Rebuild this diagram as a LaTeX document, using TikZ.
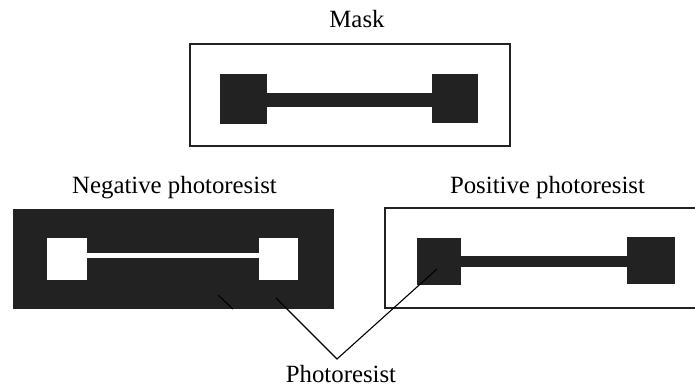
\documentclass[tikz,border=0pt]{standalone}
\usepackage{fontspec}
\setmainfont{Liberation Serif}
\definecolor{ink}{HTML}{222222}
\begin{document}
\begin{tikzpicture}[x=1pt,y=-1pt,
  lbl/.style={anchor=base,inner sep=0pt,font=\fontsize{24.8}{27}\selectfont},
  frame/.style={draw=ink,line width=2.5pt},
  solid/.style={fill=ink,draw=none},
  hole/.style={fill=white,draw=none},
  conn/.style={draw=black,line width=1.1pt}]
\useasboundingbox (0,0) rectangle (695,387);
\clip (0,0) rectangle (695,387);
% Mask
\node[lbl] (masklbl) at (357,27.3) {Mask};
\draw[frame] (190,44) rectangle (510,146);
\fill[solid] (220,74) rectangle (267,124);
\fill[solid] (432,74) rectangle (478,123);
\fill[solid] (266,93) rectangle (433,107);
% Negative photoresist
\node[lbl] (neglbl) at (174.5,194) {Negative photoresist};
\fill[solid] (13,209) rectangle (334,309);
\fill[hole] (47,238) rectangle (87,280);
\fill[hole] (259,238) rectangle (298,280);
\fill[hole] (86,253) rectangle (260,258);
% Positive photoresist
\node[lbl] (poslbl) at (547.5,194) {Positive photoresist};
\draw[frame] (385,208) rectangle (705,308);
\fill[solid] (417,238) rectangle (461,285);
\fill[solid] (627,237) rectangle (675,284);
\fill[solid] (460,256) rectangle (628,267);
% Connectors
\coordinate (apex) at (337,359);
\coordinate (negpt) at (276,298);
\coordinate (pospt) at (437,269);
\coordinate (s1) at (218,295);
\coordinate (s2) at (233,309);
\draw[conn] (negpt) -- (apex) -- (pospt);
\draw[conn] (s1) -- (s2);
\node[lbl] (prlbl) at (341,382) {Photoresist};
\end{tikzpicture}
\end{document}
